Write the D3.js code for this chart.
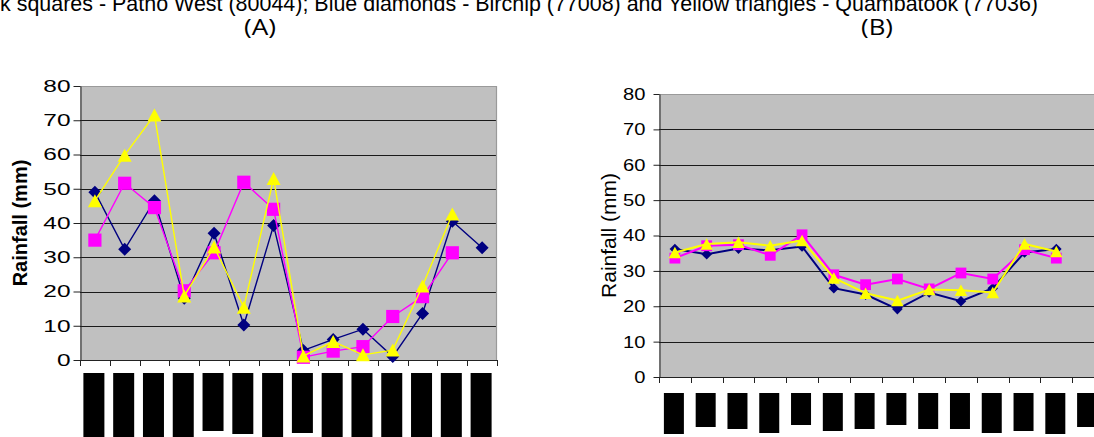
<!DOCTYPE html>
<html>
<head>
<meta charset="utf-8">
<script src="https://cdn.jsdelivr.net/npm/d3@7"></script>
<style>
    body { margin: 0; background: #fff; }
    svg { display: block; }
    text { font-family: "Liberation Sans", Arial, sans-serif; fill: #000; }
</style>
</head>
<body>
<div id="chart"></div>
<script>
// 14 periods on the x axis, the labels are blacked out in the original
const categories = ["p1", "p2", "p3", "p4", "p5", "p6", "p7", "p8", "p9", "p10", "p11", "p12", "p13", "p14"];
const yTicks = [0, 10, 20, 30, 40, 50, 60, 70, 80];

// panel (A)
const birchipA = [49, 32.3, 46.5, 18, 37, 10.2, 39.3, 2.8, 6, 9, 1, 13.6, 40.5, 32.8];
const pathoA = [35, 51.6, 44.5, 20.2, 31.3, 51.9, 44, 0.8, 2.6, 3.9, 12.7, 18.5, 31.3, null];
const quambatookA = [46.5, 59.8, 71.5, 18.7, 33, 15.4, 53, 1.2, 5.4, 1.5, 2.9, 21.6, 42.6, null];

// panel (B)
const birchipB = [36.2, 34.7, 36.3, 35.8, 36.9, 25.1, 23.3, 19.2, 23.9, 21.4, 25.1, 35.2, 36.2, null];
const pathoB = [33.6, 37.1, 37.4, 34.4, 40.2, 28.9, 26.1, 27.7, 24.9, 29.4, 27.7, 36, 33.6, null];
const quambatookB = [35.2, 37.6, 38.1, 37.1, 38.6, 28, 23.7, 21.6, 24.7, 24.5, 23.9, 37.6, 35.5, null];

// lengths of the redaction blocks under each x axis
const redactA = [64, 64, 64, 64, 58, 61, 64, 60, 64, 64, 64, 64, 64, 64];
const redactB = [41, 34, 36, 40, 32, 38, 36, 32, 36, 36, 40, 38, 41, 34];

const titleText = "k squares - Patho West (80044); Blue diamonds - Birchip (77008) and Yellow triangles - Quambatook (77036)";

const W = 1094, H = 437;

const svg = d3.select("#chart").append("svg")
    .attr("width", W).attr("height", H)
    .attr("viewBox", `0 0 ${W} ${H}`);

svg.append("text")
    .attr("x", 0).attr("y", 11)
    .attr("textLength", 1038).attr("lengthAdjust", "spacingAndGlyphs")
    .style("font-size", "22px")
    .text(titleText);

svg.selectAll(".panel-name")
    .data([{t: "(A)", x: 260}, {t: "(B)", x: 877}])
    .enter().append("text")
    .attr("class", "panel-name")
    .attr("x", d => d.x - 16).attr("y", 35)
    .attr("textLength", 32).attr("lengthAdjust", "spacingAndGlyphs")
    .style("font-family", "'Open Sans', 'Noto Sans', sans-serif")
    .style("font-size", "21px")
    .text(d => d.t);

// marker paths centred on 0,0
function diamond(h) { return `M0,${-h}L${h},0L0,${h}L${-h},0Z`; }
function square(h) { return `M${-h},${-h}H${h}V${h}H${-h}Z`; }
function triangle(w, h) { return `M0,${-h / 2}L${w / 2},${h / 2}L${-w / 2},${h / 2}Z`; }

function drawPanel(p) {
    let x = d3.scaleBand().domain(categories).range([p.left, p.right]);
    let y = d3.scaleLinear().domain([0, 80]).range([p.bottom, p.top]);

    let g = svg.append("g");

    g.append("rect")
        .attr("x", p.left).attr("y", p.top)
        .attr("width", p.right - p.left).attr("height", p.bottom - p.top)
        .attr("fill", "#c0c0c0");

    g.append("g").selectAll("line")
        .data(yTicks.filter(v => v > 0 && v < 80))
        .enter().append("line")
        .attr("x1", p.left).attr("x2", p.right)
        .attr("y1", d => Math.round(y(d)) + 0.5).attr("y2", d => Math.round(y(d)) + 0.5)
        .attr("stroke", "#1a1a1a").attr("stroke-width", 1);

    // top and right frame
    g.append("path")
        .attr("d", `M${p.left},${p.top + 0.5}H${p.right - 0.5}V${p.bottom}`)
        .attr("fill", "none").attr("stroke", "#9a9a9a").attr("stroke-width", 1.2);

    let yAxis = g.append("g")
        .attr("transform", `translate(${p.left + 0.5},0)`)
        .call(d3.axisLeft(y).tickValues(yTicks).tickSize(p.tickLen).tickSizeOuter(0).tickPadding(p.pad));
    yAxis.select(".domain").attr("stroke", "#222");
    yAxis.selectAll(".tick line").attr("stroke", "#222");
    yAxis.selectAll("text")
        .style("font-size", "17px")
        .style("font-family", "'Liberation Sans', Arial, sans-serif")
        .attr("fill", "#000")
        .attr("textLength", d => String(d).length * p.digitW)
        .attr("lengthAdjust", "spacingAndGlyphs");

    // x axis with ticks at the band edges
    let edges = categories.map(c => x(c)).concat([p.right]);
    g.append("line")
        .attr("x1", p.left).attr("x2", p.right)
        .attr("y1", p.bottom + 0.5).attr("y2", p.bottom + 0.5)
        .attr("stroke", "#222");
    g.append("g").selectAll("line")
        .data(edges)
        .enter().append("line")
        .attr("x1", d => Math.round(d) + 0.5).attr("x2", d => Math.round(d) + 0.5)
        .attr("y1", p.bottom).attr("y2", p.bottom + 6)
        .attr("stroke", "#222");

    g.append("text")
        .attr("transform", `translate(${p.labelX},${(p.top + p.bottom) / 2}) rotate(-90)`)
        .attr("text-anchor", "middle")
        .style("font-size", p.labelSize + "px")
        .style("font-weight", p.labelWeight)
        .text("Rainfall (mm)");

    // blacked out category labels
    g.append("g").selectAll("rect")
        .data(categories)
        .enter().append("rect")
        .attr("x", d => x(d) + x.bandwidth() / 2 - p.blockW / 2 - 1)
        .attr("y", p.blockTop)
        .attr("width", p.blockW)
        .attr("height", (d, i) => p.redact[i])
        .attr("fill", "#000");

    let line = d3.line()
        .defined(d => d != null)
        .x((d, i) => x(categories[i]) + x.bandwidth() / 2)
        .y(d => y(d));

    p.series.forEach(s => {
        let sg = g.append("g");
        sg.append("path")
            .datum(s.values)
            .attr("d", line)
            .attr("fill", "none")
            .attr("stroke", s.color)
            .attr("stroke-width", p.lineW);
        sg.selectAll(".marker")
            .data(s.values.map((v, i) => ({v: v, c: categories[i]})).filter(d => d.v != null))
            .enter().append("path")
            .attr("class", "marker")
            .attr("transform", d => `translate(${x(d.c) + x.bandwidth() / 2},${y(d.v)})`)
            .attr("d", s.shape)
            .attr("fill", s.color);
    });
}

drawPanel({
    left: 80, right: 497, top: 86, bottom: 360,
    tickLen: 7, pad: 3, digitW: 13.6,
    labelX: 27, labelSize: 20, labelWeight: "bold",
    blockTop: 373, blockW: 21, redact: redactA,
    lineW: 1.4,
    series: [
        {values: birchipA, color: "#000080", shape: diamond(6.5)},
        {values: pathoA, color: "#ff00ff", shape: square(6.6)},
        {values: quambatookA, color: "#ffff00", shape: triangle(14, 13)}
    ]
});

drawPanel({
    left: 659, right: 1104, top: 94, bottom: 377,
    tickLen: 6, pad: 8, digitW: 11.2,
    labelX: 616, labelSize: 21, labelWeight: "normal",
    blockTop: 393, blockW: 20, redact: redactB,
    lineW: 2,
    series: [
        {values: birchipB, color: "#000080", shape: diamond(5.3)},
        {values: pathoB, color: "#ff00ff", shape: square(5.4)},
        {values: quambatookB, color: "#ffff00", shape: triangle(12.5, 11.5)}
    ]
});
</script>
</body>
</html>
